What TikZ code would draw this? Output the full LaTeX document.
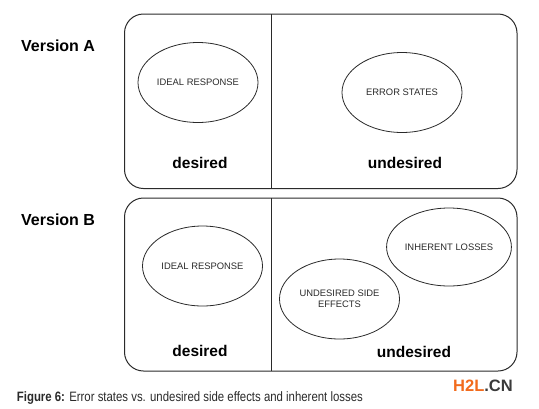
\documentclass[tikz,border=0pt]{standalone}
\usepackage{fontspec}
\usepackage{graphicx}
\setmainfont{Liberation Sans}
\usetikzlibrary{shapes.geometric}
\definecolor{ink}{HTML}{2A2A2A}
\definecolor{wmorange}{HTML}{F26B1D}
\definecolor{wmgray}{HTML}{3A3A3A}
\tikzset{
  panel/.style={draw=ink, line width=1pt, rounded corners=19pt},
  divider/.style={draw=ink, line width=1pt},
  oval/.style={ellipse, draw=ink, line width=0.8pt, minimum width=120pt, minimum height=80pt, inner sep=0pt, align=center, font=\fontsize{9.4}{11}\selectfont, text=ink},
  zonelabel/.style={anchor=base, font=\fontsize{15.5}{18}\selectfont\bfseries, text=black},
  version/.style={anchor=base west, font=\fontsize{16}{19}\selectfont\bfseries, text=black},
}
\begin{document}
\begin{tikzpicture}[x=1pt,y=-1pt]
\useasboundingbox (0,0) rectangle (539,408);
% Version A
\node[version, inner sep=0pt] (va) at (21,51.7) {Version A};
\draw[panel] (124.5,14) rectangle (517,188.5);
\coordinate (adt) at (271,14);
\coordinate (adb) at (271,188.5);
\draw[divider] (adt) -- (adb);
\node[oval] (aideal) at (198,82.5) {IDEAL RESPONSE};
\node[oval] (aerror) at (402,92.5) {ERROR STATES};
\node[zonelabel] (ades) at (200,168) {desired};
\node[zonelabel] (aund) at (405,168) {undesired};
% Version B
\node[version, inner sep=0pt] (vb) at (21,225) {Version B};
\draw[panel] (124.5,198) rectangle (517,371);
\coordinate (bdt) at (271,198);
\coordinate (bdb) at (271,371);
\draw[divider] (bdt) -- (bdb);
\node[oval] (bideal) at (202.5,266) {IDEAL RESPONSE};
\node[oval, minimum height=78pt] (binh) at (449,247) {INHERENT LOSSES};
\node[oval] (bside) at (339.5,299) {UNDESIRED SIDE\\EFFECTS};
\node[zonelabel] (bdes) at (200,356) {desired};
\node[zonelabel] (bund) at (414,357) {undesired};
% caption
\node[anchor=base west, inner sep=0pt, text=ink] (cap) at (16.7,401.7) {\resizebox{346pt}{\height}{\fontsize{13.6}{15}\selectfont\textbf{Figure 6:} Error states vs. undesired side effects and inherent losses}};
% watermark
\node[anchor=base west, inner sep=0pt, font=\fontsize{16.5}{19}\selectfont\bfseries] (wm) at (453,391.5) {\textcolor{wmorange}{H2L}\textcolor{wmgray}{.CN}};
\end{tikzpicture}
\end{document}
